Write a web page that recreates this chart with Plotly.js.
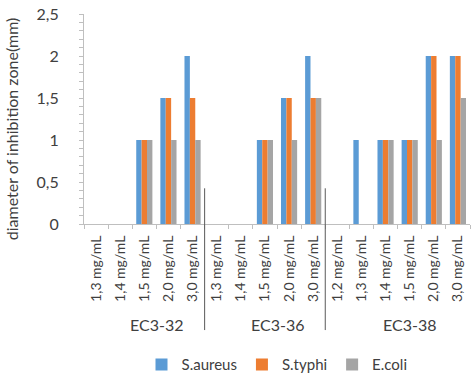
<!DOCTYPE html>
<html>
<head>
<meta charset="utf-8">
<script src="https://cdn.plot.ly/plotly-3.0.1.min.js"></script>
<style>html,body{margin:0;padding:0;background:#fff;}#chart{width:474px;height:376px;}</style>
</head>
<body>
<div id="chart"></div>
<script>
const groups = ["EC3-32","EC3-32","EC3-32","EC3-32","EC3-32",
                "EC3-36","EC3-36","EC3-36","EC3-36","EC3-36",
                "EC3-38","EC3-38","EC3-38","EC3-38","EC3-38","EC3-38"];
const concentrations = ["1,3 mg/mL","1,4 mg/mL","1,5 mg/mL","2,0 mg/mL","3,0 mg/mL",
                        "1,3 mg/mL","1,4 mg/mL","1,5 mg/mL","2,0 mg/mL","3,0 mg/mL",
                        "1,2 mg/mL","1,3 mg/mL","1,4 mg/mL","1,5 mg/mL","2,0 mg/mL","3,0 mg/mL"];
const sAureus = [0,0,1,1.5,2, 0,0,1,1.5,2, 0,1,1,1,2,2];
const sTyphi  = [0,0,1,1.5,1.5, 0,0,1,1.5,1.5, 0,0,1,1,2,2];
const eColi   = [0,0,1,1,1, 0,0,1,1,1.5, 0,0,1,1,1,1.5];
const yTitle = "diameter of inhibition zone(mm)";

const font = "Lato, 'Open Sans', sans-serif";
const ids = groups.map((g, i) => g + "|" + concentrations[i]);
const mk = (name, y, color) => ({type:"bar", name, x: ids, y, marker:{color}});
const data = [
  mk("S.aureus", sAureus, "#5B9BD5"),
  mk("S.typhi", sTyphi, "#ED7D31"),
  mk("E.coli", eColi, "#A5A5A5")
];

// group labels and separators derived from the groups array
const uniq = [...new Set(groups)];
const annotations = uniq.map(g => {
  const first = groups.indexOf(g), last = groups.lastIndexOf(g);
  return {text:g, xref:"x", yref:"paper", x:(first + last) / 2 + 0.5, y:-0.48, yanchor:"middle",
          showarrow:false, font:{size:16, family:font, color:"#404040"}};
});
annotations.push({text:yTitle, textangle:-90, xref:"paper", yref:"paper", x:-0.187, y:0.455,
                  xanchor:"center", yanchor:"middle", showarrow:false,
                  font:{size:16, family:font, color:"#404040"}});
const shapes = uniq.slice(1).map(g => {
  const xb = groups.indexOf(g) - 0.5;
  return {type:"line", xref:"x", yref:"paper", x0:xb, x1:xb, y0:0.17, y1:-0.505,
          line:{color:"#595959", width:1}};
});

const layout = {
  width:474, height:376,
  margin:{l:84, r:4, t:14, b:152},
  separators:", ",
  font:{family:font, color:"#404040"},
  paper_bgcolor:"#fff", plot_bgcolor:"#fff",
  barmode:"group", bargap:0.33, bargroupgap:0,
  showlegend:true,
  legend:{orientation:"h", x:0.5, xanchor:"center", xref:"paper", yref:"container", y:0.03, yanchor:"middle",
          font:{size:15, family:font, color:"#404040"}, itemwidth:30, traceorder:"normal"},
  annotations, shapes,
  xaxis:{type:"category", automargin:false, tickmode:"array", tickvals:ids, ticktext:concentrations,
         tickangle:-90, tickfont:{size:14, family:font, color:"#404040"}, ticklabelstandoff:5,
         showline:true, linecolor:"#bfbfbf", ticks:"outside", ticklen:4, tickcolor:"#bfbfbf",
         tickson:"boundaries", showgrid:false},
  yaxis:{range:[0,2.5], dtick:0.5, tick0:0, showgrid:false, zeroline:false, automargin:false,
         showline:true, linecolor:"#bfbfbf", ticks:"outside", ticklen:4, tickcolor:"#bfbfbf",
         minor:{dtick:0.1, ticks:"outside", ticklen:4, tickcolor:"#bfbfbf"},
         tickfont:{size:16, family:font, color:"#404040"}, ticklabelstandoff:17}
};
Plotly.newPlot("chart", data, layout, {displayModeBar:false, staticPlot:true});
</script>
</body>
</html>
